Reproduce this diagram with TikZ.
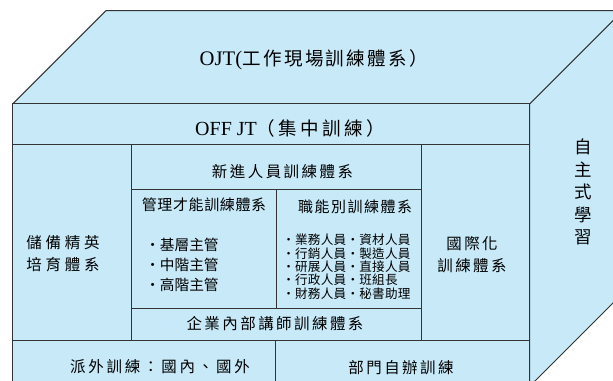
\documentclass[tikz,border=0pt]{standalone}
\usepackage{fontspec}
\setmainfont{Liberation Serif}
\newfontfamily\cjk{Noto Sans CJK TC}
\definecolor{cbFill}{HTML}{C7E9F8}
\definecolor{cbLine}{HTML}{333333}
\usetikzlibrary{calc}
\tikzset{
  boxface/.style={fill=cbFill, draw=cbLine, line width=0.75pt, line join=round},
  gridline/.style={draw=cbLine, line width=0.75pt},
  ojtfont/.style={inner sep=0pt, font=\cjk\fontsize{13.9pt}{16pt}\selectfont\addfontfeatures{LetterSpace=13}},
  offfont/.style={inner sep=0pt, font=\cjk\fontsize{13.9pt}{16pt}\selectfont\addfontfeatures{LetterSpace=18}},
  celltxt/.style={inner sep=0pt, align=center, font=\cjk\fontsize{11.6pt}{16.9pt}\selectfont\addfontfeatures{LetterSpace=16}},
  headtxt/.style={inner sep=0pt, font=\cjk\fontsize{11.25pt}{14pt}\selectfont\addfontfeatures{LetterSpace=#1}},
  listtxt/.style={inner sep=0pt, align=left, font=\cjk\fontsize{11pt}{15pt}\selectfont},
  smalllist/.style={inner sep=0pt, align=left, font=\cjk\fontsize{9.45pt}{10pt}\selectfont\addfontfeatures{LetterSpace=2}},
}

\begin{document}
\begin{tikzpicture}[x=0.75pt, y=-0.75pt]
  \useasboundingbox (0,0) rectangle (613,381);
  \clip (0,0) rectangle (613,381);
  % box faces: top, right side, front
  \draw[boxface] (12.7,104) -- (106,10.7) -- (623,10.7) -- (529.7,104) -- cycle;
  \draw[boxface] (529.7,104) -- (623,10.7) -- (623,293) -- (529.7,386.3) -- cycle;
  \draw[boxface] (12.7,104) rectangle (529.7,386.3);
  % front grid
  \draw[gridline] (12.7,145) -- (529.7,145);
  \draw[gridline] (131,145) -- (131,340);
  \draw[gridline] (421.7,145) -- (421.7,340);
  \draw[gridline] (131,189.3) -- (421.7,189.3);
  \draw[gridline] (276,189.3) -- (276,308.3);
  \draw[gridline] (131,308.3) -- (421.7,308.3);
  \draw[gridline] (12.7,340) -- (529.7,340);
  \draw[gridline] (275,340) -- (275,386.3);

  % top and header texts
  \node[ojtfont] (ojt) at (314,60) {{\rmfamily\fontsize{15.5pt}{16pt}\selectfont OJT(}工作現場訓練體系）};
  \node[offfont] (offjt) at (290,128) {{\rmfamily\fontsize{15pt}{16pt}\selectfont OFF JT}（集中訓練）};
  \node[celltxt] (newhire) at (282.5,171.7) {新進人員訓練體系};

  % inner columns
  \node[headtxt=4] (mgmthead) at (204,205) {管理才能訓練體系};
  \node[listtxt, anchor=west] (mgmtlist) at (145,265) {・基層主管\\・中階主管\\・高階主管};
  \node[headtxt=10] (funchead) at (355,206.7) {職能別訓練體系};
  \node[smalllist, anchor=west] (funclist) at (282,266.7)
    {・業務人員・資材人員\\・行銷人員・製造人員\\・研展人員・直接人員\\・行政人員・班組長\\・財務人員・秘書助理};

  % side columns and bottom rows
  \node[celltxt, font=\cjk\fontsize{11.6pt}{16.7pt}\selectfont\addfontfeatures{LetterSpace=24}] (reserve) at (63,254) {儲備精英\\培育體系};
  \node[celltxt] (intl) at (472,254.7) {國際化\\訓練體系};
  \node[celltxt] (trainer) at (275,323.3) {企業內部講師訓練體系};
  \node[celltxt, font=\cjk\fontsize{11.6pt}{16.9pt}\selectfont\addfontfeatures{LetterSpace=18}] (outside) at (160,366.7) {派外訓練：國內、國外};
  \node[celltxt] (dept) at (401,367.7) {部門自辦訓練};
  \node[celltxt, font=\cjk\fontsize{13.1pt}{16.8pt}\selectfont] (selflearn) at (583,192) {自\\主\\式\\學\\習};
\end{tikzpicture}
\end{document}
